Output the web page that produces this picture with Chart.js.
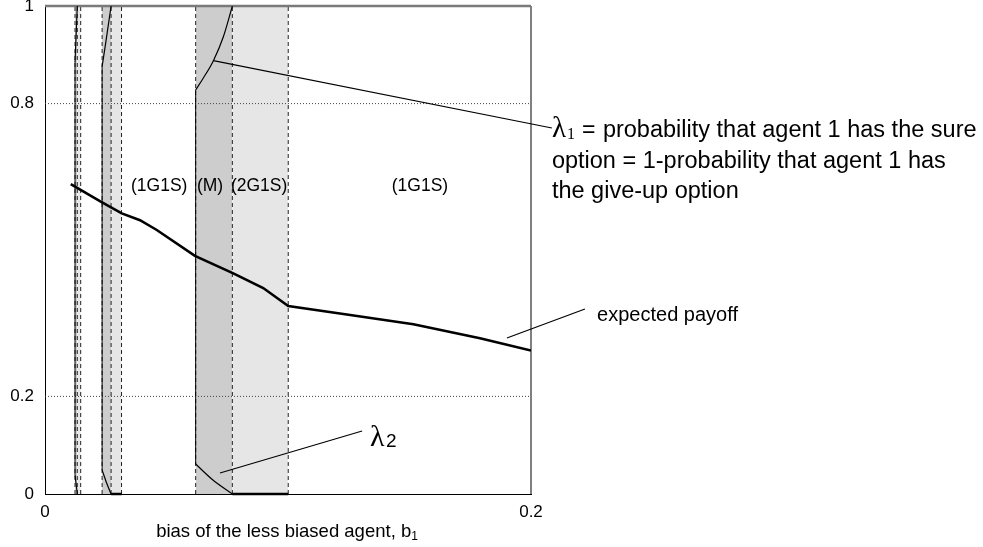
<!DOCTYPE html>
<html>
<head>
<meta charset="utf-8">
<script src="https://cdn.jsdelivr.net/npm/chart.js@4.4.1/dist/chart.umd.min.js"></script>
<style>
  html, body { margin: 0; padding: 0; background: #fff; }
  canvas { display: block; }
</style>
</head>
<body>
<canvas id="chart" width="983" height="547"></canvas>
<script>
// ticks
const xTicks = [0, 0.2];
const yTicks = [0, 0.2, 0.8, 1];
const gridLevels = [0.2, 0.8];

// regions (dark = M, light = 2G1S)
const darkBands  = [[0.01235, 0.01329], [0.0235, 0.0272], [0.062, 0.0771]];
const lightBands = [[0.01329, 0.01469], [0.0272, 0.0315], [0.0771, 0.1001]];
const dashedX    = [0.01235, 0.01329, 0.01469, 0.0235, 0.0272, 0.0315, 0.062, 0.0771, 0.1001];
// solid pieces of the left band edges: [x, from, to]
const solidEdges = [[0.01235, 0.039, 0.885], [0.0235, 0.049, 0.876], [0.062, 0.0615, 0.828]];

// expected payoff
const payoffX = [0.0106, 0.0233, 0.0316, 0.0391, 0.046, 0.0617, 0.0775, 0.0898, 0.1001, 0.1242, 0.1516, 0.179, 0.2];
const payoffY = [0.635, 0.598, 0.575, 0.561, 0.541, 0.488, 0.452, 0.422, 0.385, 0.368, 0.348, 0.319, 0.294];

// lambda 1 and lambda 2, one piece per band
const lam1X = [[0.01235, 0.01329], [0.0235, 0.025, 0.0272], [0.062, 0.0651, 0.0693, 0.0734, 0.0771]];
const lam1Y = [[0.885, 1], [0.876, 0.925, 1], [0.828, 0.852, 0.888, 0.937, 1]];
const lam2X = [[0.01235, 0.0133], [0.0235, 0.0254, 0.0272], [0.062, 0.0691, 0.0771]];
const lam2Y = [[0.039, 0], [0.049, 0.022, 0], [0.0615, 0.0287, 0]];
const lam2Zero = [[0.0272, 0.0315], [0.0771, 0.1001]];

// region labels
const regionLabels = ['(1G1S)', '(M)', '(2G1S)', '(1G1S)'];
const regionX = [0.047, 0.0679, 0.0881, 0.1543];
const regionY = 0.621;

const SANS = '"Liberation Sans", Arial, sans-serif';
const SERIF = '"Liberation Serif", "Times New Roman", serif';

const pts = (xs, ys) => xs.map((v, i) => ({ x: v, y: ys[i] }));

function lineDs(data, extra) {
  return Object.assign({
    data, showLine: true, pointRadius: 0, borderColor: '#000',
    borderWidth: 1, fill: false, order: 0
  }, extra);
}

const datasets = [];

// bands
darkBands.forEach(b => datasets.push(lineDs([{ x: b[0], y: 1 }, { x: b[1], y: 1 }],
  { borderWidth: 0, fill: 'origin', backgroundColor: '#cdcdcd', order: 20 })));
lightBands.forEach(b => datasets.push(lineDs([{ x: b[0], y: 1 }, { x: b[1], y: 1 }],
  { borderWidth: 0, fill: 'origin', backgroundColor: '#e6e6e6', order: 20 })));

// dotted horizontal lines
gridLevels.forEach(g => datasets.push(lineDs([{ x: 0, y: g }, { x: 0.2, y: g }],
  { borderColor: '#444', borderDash: [1, 2], order: 15 })));

// dashed band edges
dashedX.forEach(v => datasets.push(lineDs([{ x: v, y: 0 }, { x: v, y: 1 }],
  { borderColor: '#222', borderDash: [4, 3], order: 10 })));
solidEdges.forEach(s => datasets.push(lineDs([{ x: s[0], y: s[1] }, { x: s[0], y: s[2] }], { order: 9 })));

// frame: gray top, black right
datasets.push(lineDs([{ x: 0, y: 1 }, { x: 0.2, y: 1 }], { borderColor: '#7a7a7a', borderWidth: 2.5, clip: 4, order: 1 }));
datasets.push(lineDs([{ x: 0.2, y: 0 }, { x: 0.2, y: 1 }], { clip: 2, order: 1 }));

// curves
lam1X.forEach((xs, i) => datasets.push(lineDs(pts(xs, lam1Y[i]), { cubicInterpolationMode: 'monotone', borderWidth: 1.2 })));
lam2X.forEach((xs, i) => datasets.push(lineDs(pts(xs, lam2Y[i]), { cubicInterpolationMode: 'monotone', borderWidth: 1.2 })));
lam2Zero.forEach(z => datasets.push(lineDs([{ x: z[0], y: 0 }, { x: z[1], y: 0 }], { borderWidth: 2.5, clip: 3 })));
datasets.push(lineDs(pts(payoffX, payoffY), { borderWidth: 2.6 }));

// leader lines and texts
const annot = {
  id: 'annot',
  afterDraw(chart) {
    const { ctx, scales: { x, y } } = chart;
    const px = v => x.getPixelForValue(v);
    const py = v => y.getPixelForValue(v);
    ctx.save();
    ctx.strokeStyle = '#000';
    ctx.lineWidth = 1.2;
    [[0.0693, 0.888, 0.2086, 0.75], [0.1901, 0.3197, 0.2222, 0.379], [0.072, 0.043, 0.1305, 0.129]].forEach(l => {
      ctx.beginPath();
      ctx.moveTo(px(l[0]), py(l[1]));
      ctx.lineTo(px(l[2]), py(l[3]));
      ctx.stroke();
    });

    ctx.fillStyle = '#000';
    ctx.textBaseline = 'alphabetic';

    // region labels
    ctx.font = '17.5px ' + SANS;
    ctx.textAlign = 'center';
    regionLabels.forEach((t, i) => ctx.fillText(t, px(regionX[i]), py(regionY)));

    // lambda 1 text block
    ctx.textAlign = 'left';
    const lx = px(0.2086);
    ctx.font = '29px ' + SERIF;
    ctx.fillText('λ', lx, 137);
    ctx.font = '16px ' + SERIF;
    ctx.fillText('1', lx + 15, 139);
    ctx.font = '23px ' + SANS;
    ctx.fillText('=', lx + 30, 137);
    ctx.font = '23.5px ' + SANS;
    ctx.fillText('probability that agent 1 has the sure', lx + 51, 137);
    ctx.fillText('option = 1-probability that agent 1 has', lx, 168);
    ctx.fillText('the give-up option', lx, 198);

    // expected payoff
    ctx.font = '20px ' + SANS;
    ctx.fillText('expected payoff', px(0.2272), py(0.3545));

    // lambda 2
    const l2x = px(0.1337), l2y = py(0.098);
    ctx.font = '30px ' + SERIF;
    ctx.fillText('λ', l2x, l2y);
    ctx.font = '19px ' + SANS;
    ctx.fillText('2', l2x + 16, l2y + 1);

    // x axis title with subscript
    ctx.font = '18.5px ' + SANS;
    const title = 'bias of the less biased agent, b';
    const w = ctx.measureText(title).width;
    ctx.font = '12px ' + SANS;
    const sw = ctx.measureText('1').width;
    const tx = 287 - (w + sw) / 2;
    ctx.font = '18.5px ' + SANS;
    ctx.fillText(title, tx, 537);
    ctx.font = '12px ' + SANS;
    ctx.fillText('1', tx + w, 540);
    ctx.restore();
  }
};

// keep the plot box fixed: no extra room for end labels
function noPad(s) {
  s.paddingTop = 0; s.paddingBottom = 0; s.paddingLeft = 0; s.paddingRight = 0;
}

new Chart(document.getElementById('chart'), {
  type: 'scatter',
  data: { datasets },
  options: {
    responsive: false,
    animation: false,
    layout: { padding: { left: 0, top: 6, right: 452, bottom: 0 } },
    plugins: { legend: { display: false }, tooltip: { enabled: false } },
    scales: {
      x: {
        type: 'linear', min: 0, max: 0.2,
        afterBuildTicks: s => { s.ticks = xTicks.map(v => ({ value: v })); },
        afterFit: s => { s.height = 53; noPad(s); },
        grid: { display: false, drawTicks: false },
        border: { color: '#000', width: 1 },
        ticks: { color: '#000', font: { family: SANS, size: 17 }, padding: 8, maxRotation: 0,
                 autoSkip: false, callback: v => String(v) }
      },
      y: {
        type: 'linear', min: 0, max: 1,
        afterBuildTicks: s => { s.ticks = yTicks.map(v => ({ value: v })); },
        afterFit: s => { s.width = 45; noPad(s); },
        grid: { display: false, drawTicks: false },
        border: { color: '#000', width: 1 },
        ticks: { color: '#000', font: { family: SANS, size: 17 }, padding: 11,
                 autoSkip: false, callback: v => String(v) }
      }
    }
  },
  plugins: [annot]
});
</script>
</body>
</html>
